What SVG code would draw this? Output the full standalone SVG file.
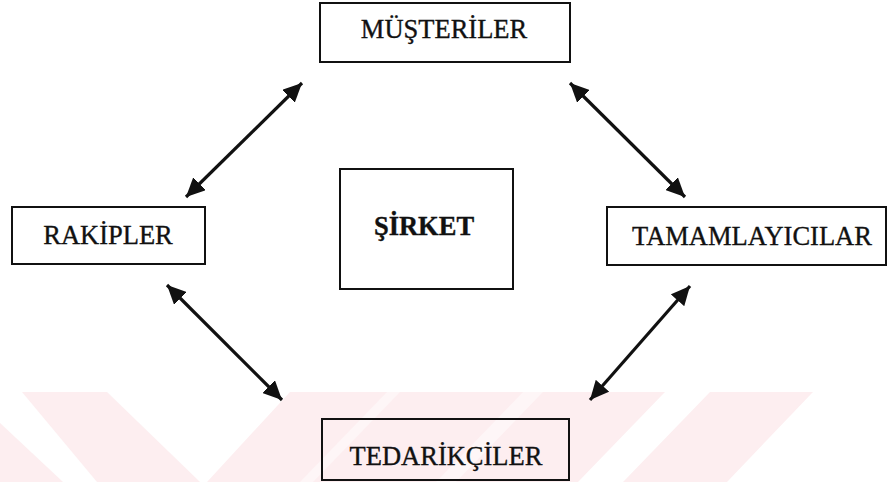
<svg xmlns="http://www.w3.org/2000/svg" width="890" height="482" viewBox="0 0 890 482">
  <style>
    .box { fill: none; stroke: #111; stroke-width: 2; }
    .lbl { font-family: "Liberation Serif", "Times New Roman", serif; font-size: 26.5px; fill: #111; stroke: #111; stroke-width: 0.35; text-anchor: middle; }
    .bold { font-weight: bold; }
    .link { stroke: #111; stroke-width: 3.2; fill: none; marker-start: url(#head); marker-end: url(#head); }
    .band { fill: #fdeef0; }
    .light { fill: #ffffff; opacity: 0.45; }
  </style>
  <defs>
    <marker id="head" markerUnits="userSpaceOnUse" markerWidth="21" markerHeight="18" refX="19" refY="9" orient="auto-start-reverse">
      <path d="M0,0 L19,9 L0,18 Z" fill="#111"/>
    </marker>
  </defs>

  <!-- background bands along the bottom edge -->
  <g id="bands">
    <polygon class="band" points="0,423 63,482 0,482"/>
    <polygon class="band" points="22,392 107,392 200,482 97,482"/>
    <polygon class="band" points="290,392 665,392 578,482 207,482"/>
    <polygon class="band" points="710,392 813,392 727,482 623,482"/>
    <polygon class="light" points="387,392 400,392 313,482 300,482"/>
    <polygon class="light" points="523,392 543,392 456,482 436,482"/>
  </g>

  <g id="connectors">
    <line class="link" x1="186" y1="197" x2="302" y2="83"/>
    <line class="link" x1="570" y1="83" x2="685" y2="197"/>
    <line class="link" x1="167" y1="285" x2="282" y2="400"/>
    <line class="link" x1="590" y1="400" x2="690" y2="286"/>
  </g>

  <g id="musteriler">
    <rect class="box" x="320" y="3" width="250" height="59"/>
    <text class="lbl" x="444" y="38">MÜŞTERİLER</text>
  </g>

  <g id="rakipler">
    <rect class="box" x="12" y="207" width="193" height="57"/>
    <text class="lbl" x="108" y="244">RAKİPLER</text>
  </g>

  <g id="sirket">
    <rect class="box" x="340" y="169" width="173" height="120"/>
    <text class="lbl bold" x="424" y="235">ŞİRKET</text>
  </g>

  <g id="tamamlayicilar">
    <rect class="box" x="607" y="207" width="279" height="58"/>
    <text class="lbl" x="752" y="245">TAMAMLAYICILAR</text>
  </g>

  <g id="tedarikciler">
    <rect class="box" x="322" y="419" width="247" height="61"/>
    <text class="lbl" x="446" y="465">TEDARİKÇİLER</text>
  </g>
</svg>
